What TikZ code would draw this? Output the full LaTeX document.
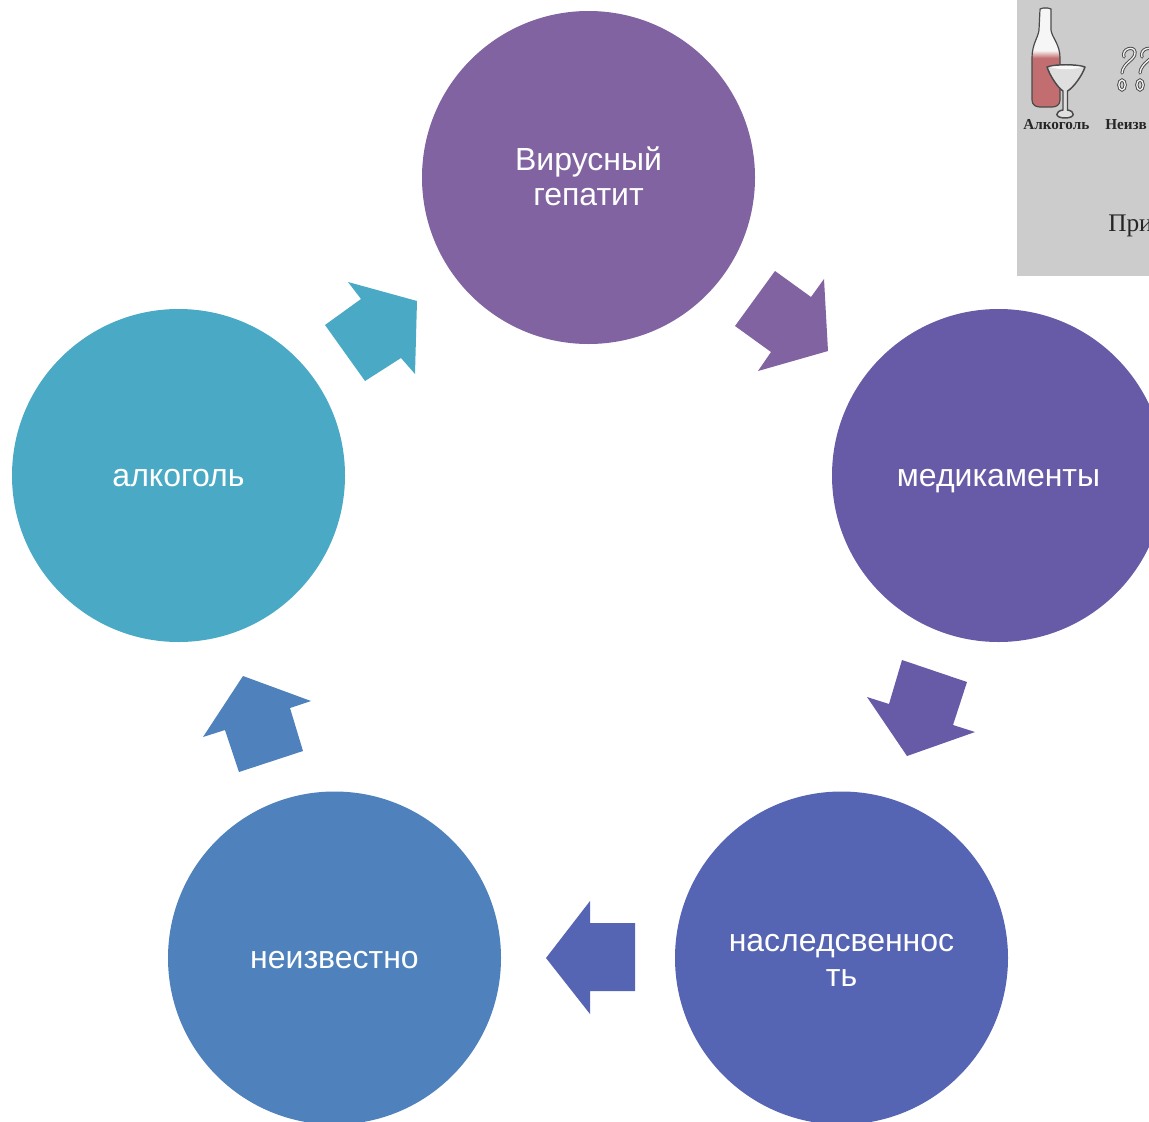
\documentclass[tikz,border=0pt]{standalone}
\usepackage{fontspec}
\setmainfont{Liberation Sans}
\newfontfamily\insetfont{Liberation Serif}
\definecolor{cA}{HTML}{8063A0}
\definecolor{cB}{HTML}{675BA7}
\definecolor{cC}{HTML}{5564B3}
\definecolor{cD}{HTML}{4F82BC}
\definecolor{cE}{HTML}{4AA9C5}
\definecolor{insetgray}{HTML}{CCCCCC}
\definecolor{wine}{HTML}{C26E70}
\definecolor{inkline}{HTML}{4A4A4A}
\newcommand{\lnstrut}{\rule[-5.35pt]{0pt}{27pt}}
\tikzset{
  stage/.style={circle,minimum size=249.75pt,inner sep=0pt,text=white,align=center,
    font=\fontsize{24}{27}\selectfont,text width=178pt},
  inklabel/.style={text=black!85,inner sep=0pt,anchor=base west},
  qmark/.style={inkline,line width=0.7pt,double=white!88!gray,double distance=1pt,line cap=round},
}
\begin{document}
\begin{tikzpicture}[x=0.75pt,y=-0.75pt]
\useasboundingbox (0,0) rectangle (1149,1121);
\clip (0,0) rectangle (1149,1121);
\fill[white] (0,0) rectangle (1149,1121);
% inset
\fill[insetgray] (1017,0) rectangle (1149,276);
\begin{scope}
\clip (1017,0) rectangle (1149,276);
% bottle
\fill[white!93!gray] (1039,9) -- (1051,9) -- (1051,30) .. controls (1052,38) and (1060,44) .. (1060,58) -- (1032,58) .. controls (1032,44) and (1038,38) .. (1039,30) -- cycle;
\fill[wine] (1032,56) -- (1060,56) -- (1060,100) .. controls (1060,105) and (1056,107) .. (1052,107) -- (1040,107) .. controls (1036,107) and (1032,105) .. (1032,100) -- cycle;
\fill[top color=white!85!wine,bottom color=wine] (1033,51) rectangle (1059,58);
\draw[inkline,line width=0.9pt,line join=round] (1040,9) .. controls (1043,7.5) and (1048,7.5) .. (1051,9) -- (1051,30) .. controls (1052,38) and (1060,44) .. (1060,58) -- (1060,100) .. controls (1060,105) and (1056,107) .. (1052,107) -- (1040,107) .. controls (1036,107) and (1032,105) .. (1032,100) -- (1032,58) .. controls (1032,44) and (1038,38) .. (1039,30) -- cycle;
% glass
\fill[white!75!gray,draw=inkline,line width=1.1pt,line join=round] (1047,67) .. controls (1055,64) and (1077,64) .. (1085,67) .. controls (1082,76) and (1073,88) .. (1067.5,91) -- (1067.5,110) .. controls (1075,111) and (1076,118) .. (1065,118) .. controls (1054,118) and (1055,111) .. (1063,110) -- (1063,91) .. controls (1058,88) and (1050,76) .. (1047,67) -- cycle;
\fill[white!95!gray] (1050,67) .. controls (1058,65.5) and (1074,65.5) .. (1082,67) .. controls (1074,70) and (1058,70) .. (1050,67) -- cycle;
% question marks
\draw[qmark] (1124,57) .. controls (1121,49) and (1134,45) .. (1135,52) .. controls (1136,60) and (1123,62) .. (1122,73);
\draw[qmark] (1142,57) .. controls (1139,49) and (1152,45) .. (1153,52) .. controls (1154,60) and (1141,62) .. (1140,73);
\draw[qmark] (1122,85) ellipse [x radius=3.2,y radius=5];
\draw[qmark] (1140,85) ellipse [x radius=3.2,y radius=5];
\node[inklabel,font=\insetfont\bfseries\fontsize{11.4}{13}\selectfont] (alk) at (1023,129) {Алкоголь};
\node[inklabel,font=\insetfont\bfseries\fontsize{11.4}{13}\selectfont] (unk) at (1105,129) {Неизв};
\node[inklabel,font=\insetfont\fontsize{19}{22}\selectfont] (pri) at (1108,231) {При};
\end{scope}
% stages
\node[stage,fill=cA] (virus) at (588.5,177.5) {\lnstrut Вирусный\\[-0.75pt]\lnstrut гепатит};
\node[stage,fill=cB] (med) at (998.5,475.5) {\lnstrut медикаменты};
\node[stage,fill=cC] (her) at (841.5,958) {\lnstrut наследсвеннос\\[-0.75pt]\lnstrut ть};
\node[stage,fill=cD] (unkn) at (334.5,958) {\lnstrut неизвестно};
\node[stage,fill=cE] (alc) at (178.5,475.5) {\lnstrut алкоголь};
% block arrows
\fill[cA] (775,271) -- (811,297) -- (824,279) -- (828,351) -- (758,371) -- (771,352) -- (735,326) -- cycle;
\fill[cB] (902,660) -- (967,682) -- (953,725) -- (975,732) -- (907,756) -- (867,697) -- (889,704) -- cycle;
\fill[cC] (635,923) -- (590,923) -- (590,901) -- (546,958) -- (590,1014) -- (590,991) -- (635,991) -- cycle;
\fill[cD] (239,772) -- (303,751) -- (290,708) -- (311,701) -- (243,676) -- (203,737) -- (225,730) -- cycle;
\fill[cE] (325,325) -- (361,299) -- (348,282) -- (417,301) -- (415,374) -- (401,358) -- (365,381) -- cycle;
\end{tikzpicture}
\end{document}
